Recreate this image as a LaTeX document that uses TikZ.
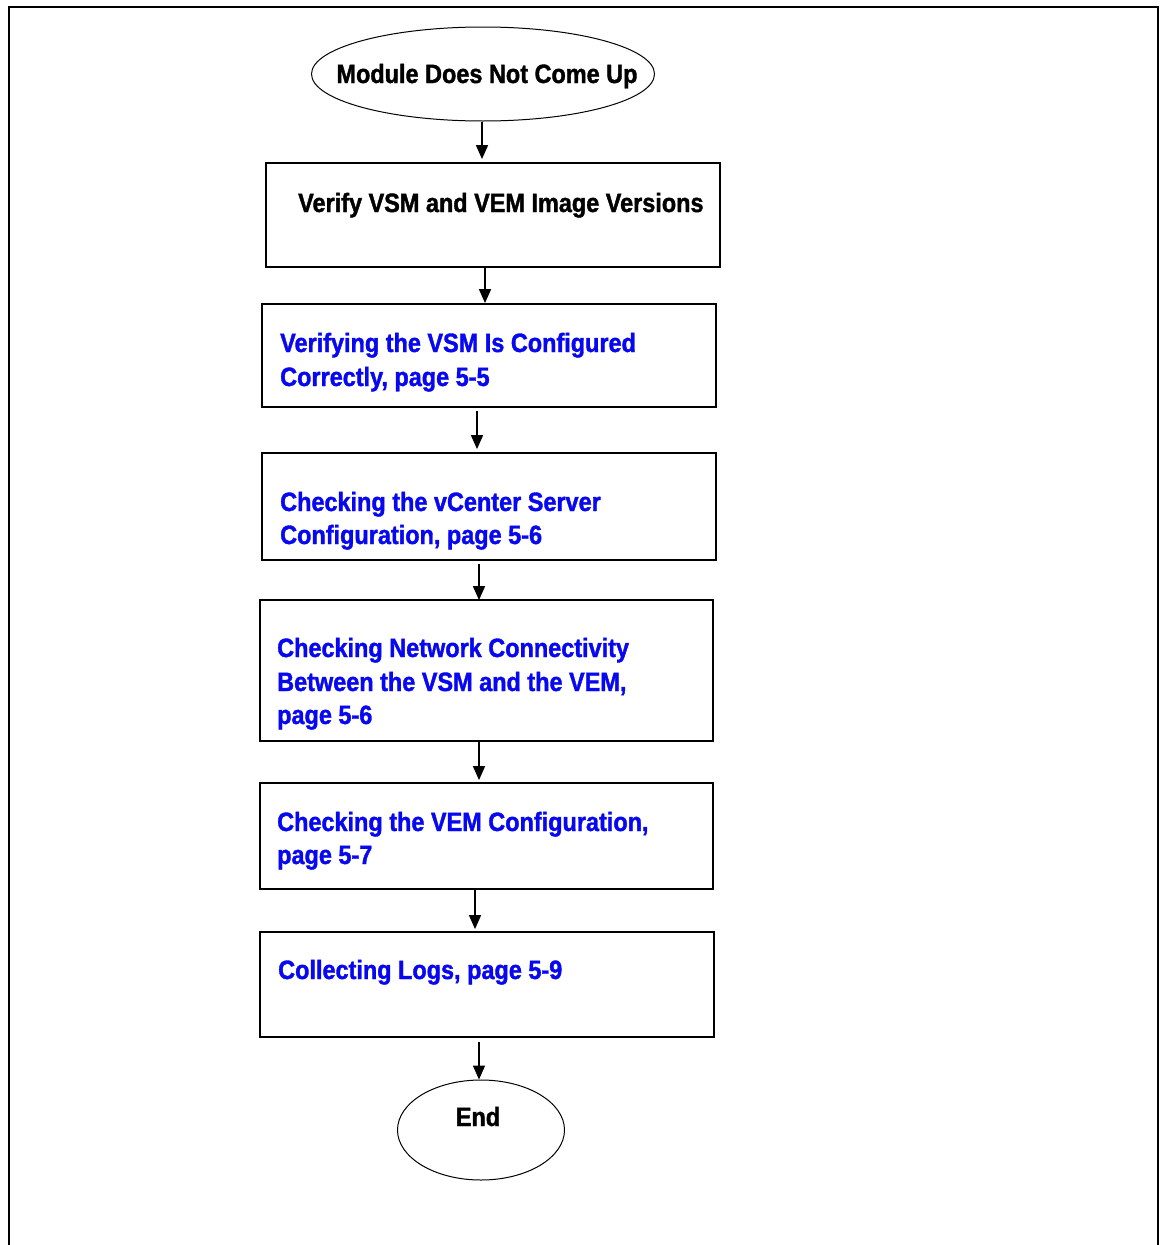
\documentclass[tikz,border=0pt]{standalone}
\usepackage{fontspec}
\newfontfamily\cfont[FakeStretch=0.885,FakeBold=1.4]{Liberation Sans Bold}
\usetikzlibrary{arrows.meta,shapes.geometric}
\definecolor{linkblue}{RGB}{8,8,240}
\begin{document}
\begin{tikzpicture}[x=1pt,y=-1pt,
  box/.style={draw,line width=1.8pt,rectangle,inner sep=0pt},
  oval/.style={draw,line width=1pt,ellipse,inner sep=0pt},
  txt/.style={anchor=base west,inner sep=0pt,font=\cfont\fontsize{26.5}{34}\selectfont},
  ctxt/.style={anchor=base,inner sep=0pt,font=\cfont\fontsize{26.5}{34}\selectfont},
  btxt/.style={txt,text=linkblue},
  arr/.style={line width=1.5pt,-{Triangle[length=14pt,width=12pt]}}]
\useasboundingbox (0,0) rectangle (1160,1245);
\fill[white] (0,0) rectangle (1160,1245);
% frame
\draw[line width=2.4pt] (9,1250) -- (9,7) -- (1158,7) -- (1158,1250);
% nodes
\node[oval,minimum width=343pt,minimum height=94pt] (e1) at (483,74) {};
\node[box,minimum width=454pt,minimum height=104pt] (b2) at (493,215) {};
\node[box,minimum width=454pt,minimum height=103pt] (b3) at (489,355.5) {};
\node[box,minimum width=454pt,minimum height=107pt] (b4) at (489,506.5) {};
\node[box,minimum width=453pt,minimum height=141pt] (b5) at (486.5,670.5) {};
\node[box,minimum width=453pt,minimum height=106pt] (b6) at (486.5,836) {};
\node[box,minimum width=454pt,minimum height=105pt] (b7) at (487,984.5) {};
\node[oval,minimum width=167pt,minimum height=100pt] (e2) at (481,1130) {};
% texts
\node[ctxt] (t1) at (487,83) {Module Does Not Come Up};
\node[txt] (t2) at (298,212) {Verify VSM and VEM Image Versions};
\node[btxt] (t3a) at (280,352) {Verifying the VSM Is Configured};
\node[btxt] (t3b) at (280,386) {Correctly, page 5-5};
\node[btxt] (t4a) at (280,511) {Checking the vCenter Server};
\node[btxt] (t4b) at (280,544) {Configuration, page 5-6};
\node[btxt] (t5a) at (277,657) {Checking Network Connectivity};
\node[btxt] (t5b) at (277,691) {Between the VSM and the VEM,};
\node[btxt] (t5c) at (277,724) {page 5-6};
\node[btxt] (t6a) at (277,831) {Checking the VEM Configuration,};
\node[btxt] (t6b) at (277,864) {page 5-7};
\node[btxt] (t7) at (278,979) {Collecting Logs, page 5-9};
\node[ctxt] (t8) at (478,1126) {End};
% arrows
\draw[arr] ([xshift=-1pt]e1.south) -- ([xshift=-1pt,yshift=3pt]e1.south |- b2.north);
\draw[arr] ([xshift=-8pt]b2.south) -- ([xshift=-8pt]b2.south |- b3.north);
\draw[arr] ([xshift=-12pt,yshift=-3pt]b3.south) -- ([xshift=-12pt,yshift=3pt]b3.south |- b4.north);
\draw[arr] ([xshift=-10pt,yshift=-3pt]b4.south) -- ([xshift=-10pt,yshift=-1pt]b4.south |- b5.north);
\draw[arr] ([xshift=-7.5pt]b5.south) -- ([xshift=-7.5pt,yshift=2pt]b5.south |- b6.north);
\draw[arr] ([xshift=-11.5pt]b6.south) -- ([xshift=-11.5pt,yshift=2pt]b6.south |- b7.north);
\draw[arr] ([xshift=-8pt,yshift=-4pt]b7.south) -- ([xshift=-8pt]b7.south |- e2.north);
\end{tikzpicture}
\end{document}
